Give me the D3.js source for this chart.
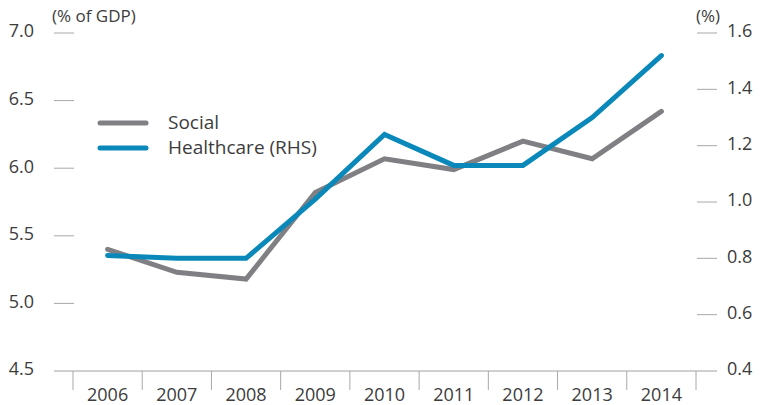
<!DOCTYPE html>
<html lang="en">
<head>
<meta charset="UTF-8">
<title>Social and healthcare spending</title>
<script src="https://cdnjs.cloudflare.com/ajax/libs/d3/7.8.5/d3.min.js"></script>
<style>
    body { margin: 0; background: #fff; }
    svg text { font-family: 'Open Sans', sans-serif; fill: #3c3c3c; }
</style>
</head>
<body>
<div id="chart"></div>
<script>
const years = ["2006", "2007", "2008", "2009", "2010", "2011", "2012", "2013", "2014"];
const social = [5.40, 5.23, 5.18, 5.82, 6.07, 5.99, 6.20, 6.07, 6.42];
const healthcare = [0.81, 0.80, 0.80, 1.01, 1.24, 1.13, 1.13, 1.30, 1.52];
const leftTicks = [4.5, 5.0, 5.5, 6.0, 6.5, 7.0];
const rightTicks = [0.4, 0.6, 0.8, 1.0, 1.2, 1.4, 1.6];

const width = 762, height = 405;
const svg = d3.select("#chart").append("svg")
    .attr("width", width)
    .attr("height", height);

const x = d3.scaleBand().domain(years).range([73, 696]);
const yL = d3.scaleLinear().domain([4.5, 7.0]).range([371, 33]);
const yR = d3.scaleLinear().domain([0.4, 1.6]).range([371, 33]);

// left axis
leftTicks.forEach(t => {
    if (t > 4.5) {
        svg.append("line")
            .attr("x1", 54).attr("x2", 74)
            .attr("y1", yL(t)).attr("y2", yL(t))
            .attr("stroke", "#a8a8a8").attr("stroke-width", 1);
    }
    svg.append("text")
        .attr("x", 34).attr("y", yL(t) - 2)
        .attr("dy", "0.35em")
        .attr("text-anchor", "end")
        .style("font-size", "18px")
        .text(t.toFixed(1));
});

// right axis
rightTicks.forEach(t => {
    if (t > 0.4) {
        svg.append("line")
            .attr("x1", 697).attr("x2", 717)
            .attr("y1", yR(t)).attr("y2", yR(t))
            .attr("stroke", "#a8a8a8").attr("stroke-width", 1);
    }
    svg.append("text")
        .attr("x", 727).attr("y", yR(t) - 2)
        .attr("dy", "0.35em")
        .style("font-size", "18px")
        .text(t.toFixed(1));
});

svg.append("text").attr("x", 52).attr("y", 22)
    .style("font-size", "17px").text("(% of GDP)");
svg.append("text").attr("x", 696).attr("y", 22)
    .style("font-size", "17px").text("(%)");

// x axis
svg.append("line")
    .attr("x1", 54).attr("x2", 717)
    .attr("y1", 371).attr("y2", 371)
    .attr("stroke", "#a0a0a0").attr("stroke-width", 1);

const seps = years.map(d => x(d)).concat([x.range()[1]]);
seps.forEach(s => {
    svg.append("line")
        .attr("x1", s).attr("x2", s)
        .attr("y1", 371).attr("y2", 390)
        .attr("stroke", "#a8a8a8").attr("stroke-width", 1);
});

years.forEach(d => {
    svg.append("text")
        .attr("x", x(d) + x.bandwidth() / 2)
        .attr("y", 401)
        .attr("text-anchor", "middle")
        .style("font-size", "18px")
        .text(d);
});

// lines
const cx = (d, i) => x(years[i]) + x.bandwidth() / 2;
const lineL = d3.line().x(cx).y(d => yL(d));
const lineR = d3.line().x(cx).y(d => yR(d));

svg.append("path")
    .attr("d", lineL(social))
    .attr("fill", "none")
    .attr("stroke", "#808084")
    .attr("stroke-width", 5)
    .attr("stroke-linecap", "round")
    .attr("stroke-linejoin", "miter");

svg.append("path")
    .attr("d", lineR(healthcare))
    .attr("fill", "none")
    .attr("stroke", "#0a88b9")
    .attr("stroke-width", 5)
    .attr("stroke-linecap", "round")
    .attr("stroke-linejoin", "miter");

// legend
const legend = [
    { name: "Social", color: "#808084", y: 123 },
    { name: "Healthcare (RHS)", color: "#0a88b9", y: 148 }
];
legend.forEach(l => {
    svg.append("line")
        .attr("x1", 100).attr("x2", 146)
        .attr("y1", l.y).attr("y2", l.y)
        .attr("stroke", l.color).attr("stroke-width", 5)
        .attr("stroke-linecap", "round");
    svg.append("text")
        .attr("x", 168).attr("y", l.y - 1)
        .attr("dy", "0.35em")
        .style("font-size", "19px")
        .text(l.name);
});
</script>
</body>
</html>
